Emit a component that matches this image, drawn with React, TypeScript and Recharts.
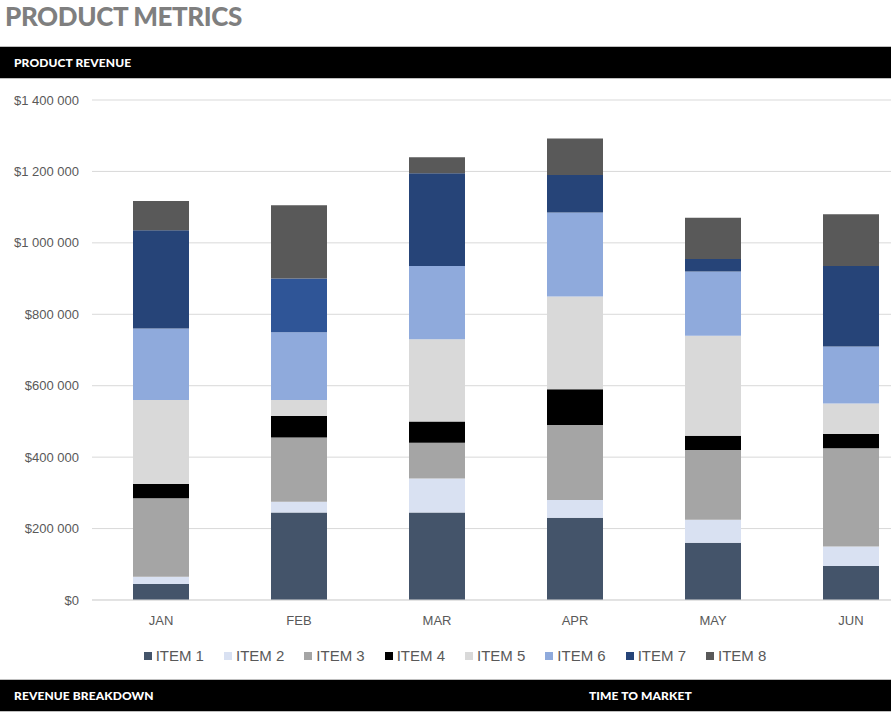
import React from "react";
import { BarChart, Bar, XAxis, YAxis, CartesianGrid, Cell } from "recharts";

// ─── Data ─────────────────────────────────────────────────────────────────────

const months = ["JAN", "FEB", "MAR", "APR", "MAY", "JUN"];

const item1 = [45000, 245000, 245000, 230000, 160000, 95000];
const item2 = [20000, 30000, 95000, 50000, 65000, 55000];
const item3 = [220000, 180000, 100000, 210000, 195000, 275000];
const item4 = [40000, 60000, 60000, 100000, 40000, 40000];
const item5 = [235000, 45000, 230000, 260000, 280000, 85000];
const item6 = [200000, 190000, 205000, 235000, 180000, 160000];
const item7 = [275000, 150000, 260000, 105000, 35000, 225000];
const item8 = [82000, 205000, 45000, 102000, 115000, 145000];

const seriesNames = ["ITEM 1", "ITEM 2", "ITEM 3", "ITEM 4", "ITEM 5", "ITEM 6", "ITEM 7", "ITEM 8"];
const seriesValues = [item1, item2, item3, item4, item5, item6, item7, item8];

const yTicks = [0, 200000, 400000, 600000, 800000, 1000000, 1200000, 1400000];

// ─── Styling ──────────────────────────────────────────────────────────────────

const colors = ["#44546A", "#D9E1F2", "#A5A5A5", "#000000", "#D9D9D9", "#8FAADC", "#264478", "#595959"];
// FEB's ITEM 7 segment is drawn in a lighter blue in the original
const febItem7Color = "#2F5597";

const AXIS_FONT = '"Liberation Sans", Arial, sans-serif';
const HEAD_FONT = 'Lato, "Open Sans", sans-serif';
const labelColor = "#595959";

const chartData = months.map((m, i) => {
  const row: Record<string, string | number> = { month: m };
  seriesNames.forEach((name, s) => {
    row[name] = seriesValues[s][i];
  });
  return row;
});

const formatMoney = (v: number) => "$" + v.toLocaleString("en-US").replace(/,/g, " ");

// ─── Section header bar ───────────────────────────────────────────────────────

function HeaderBar({ top, labels }: { top: number; labels: { text: string; left: number }[] }) {
  return (
    <div
      style={{
        position: "absolute",
        left: 0,
        top,
        width: 891,
        height: 31,
        background: "#000",
        borderTop: "1px solid #BFBFBF",
        borderBottom: "1px solid #BFBFBF",
      }}
    >
      {labels.map((l) => (
        <span
          key={l.text}
          style={{
            position: "absolute",
            left: l.left,
            top: 8,
            color: "#fff",
            fontFamily: HEAD_FONT,
            fontWeight: 900,
            fontSize: 12,
            lineHeight: "16px",
            letterSpacing: 0.1,
          }}
        >
          {l.text}
        </span>
      ))}
    </div>
  );
}

// ─── Legend ───────────────────────────────────────────────────────────────────

function ChartLegend() {
  return (
    <div
      style={{
        position: "absolute",
        left: 0,
        top: 646,
        width: 910,
        display: "flex",
        justifyContent: "center",
        gap: 20,
        fontFamily: AXIS_FONT,
        fontSize: 15,
        color: labelColor,
        lineHeight: "20px",
      }}
    >
      {seriesNames.map((name, i) => (
        <div key={name} style={{ display: "flex", alignItems: "center", gap: 4 }}>
          <span style={{ width: 8, height: 8, background: colors[i], display: "inline-block" }} />
          <span>{name}</span>
        </div>
      ))}
    </div>
  );
}

// ─── App ──────────────────────────────────────────────────────────────────────

export default function App() {
  return (
    <div
      style={{
        position: "absolute",
        left: 0,
        top: 0,
        width: 891,
        height: 717,
        overflow: "hidden",
        background: "#fff",
      }}
    >
      <div
        style={{
          position: "absolute",
          left: 5,
          top: 0,
          fontFamily: HEAD_FONT,
          fontWeight: 900,
          fontSize: 26,
          lineHeight: "32px",
          color: "#7F7F7F",
          letterSpacing: -0.4,
        }}
      >
        PRODUCT METRICS
      </div>

      <HeaderBar top={46} labels={[{ text: "PRODUCT REVENUE", left: 14 }]} />

      <div style={{ position: "absolute", left: 0, top: 0 }}>
        <BarChart
          width={940}
          height={640}
          data={chartData}
          margin={{ top: 100, right: 20, bottom: 0, left: 0 }}
          barSize={56}
        >
          <CartesianGrid vertical={false} stroke="#D9D9D9" strokeWidth={1} />
          <XAxis
            dataKey="month"
            height={40}
            axisLine={{ stroke: "#D9D9D9" }}
            tickLine={false}
            tickSize={0}
            tickMargin={16}
            tick={{ fontSize: 13, fill: labelColor, fontFamily: AXIS_FONT }}
          />
          <YAxis
            width={92}
            domain={[0, 1400000]}
            ticks={yTicks}
            tickFormatter={formatMoney}
            axisLine={false}
            tickLine={false}
            tickSize={0}
            tickMargin={13}
            tick={{ fontSize: 13, fill: labelColor, fontFamily: AXIS_FONT }}
          />
          {seriesNames.map((name, s) => (
            <Bar key={name} dataKey={name} stackId="rev" fill={colors[s]} isAnimationActive={false}>
              {months.map((m, i) => (
                <Cell key={m} fill={s === 6 && i === 1 ? febItem7Color : colors[s]} />
              ))}
            </Bar>
          ))}
        </BarChart>
      </div>

      <ChartLegend />

      <HeaderBar
        top={679}
        labels={[
          { text: "REVENUE BREAKDOWN", left: 14 },
          { text: "TIME TO MARKET", left: 589 },
        ]}
      />
    </div>
  );
}
